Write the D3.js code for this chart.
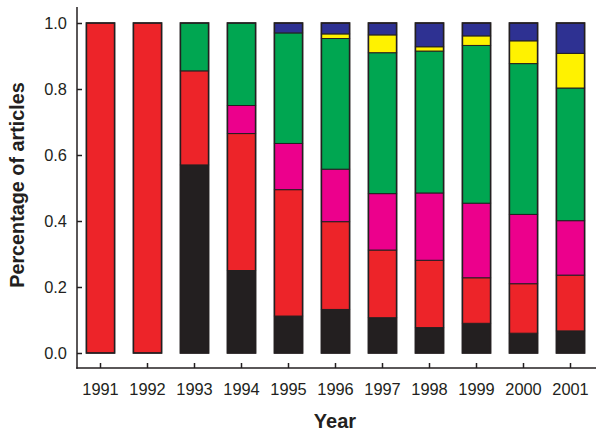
<!DOCTYPE html>
<html>
<head>
<meta charset="utf-8">
<script src="https://cdn.jsdelivr.net/npm/d3@7"></script>
<style>
  body { margin: 0; background: #fff; }
  svg { display: block; font-family: "Liberation Sans", Arial, Helvetica, sans-serif; }
  .axis text { fill: #231f20; font-size: 16.4px; }
  .axis line { stroke: #231f20; stroke-width: 1.5px; }
</style>
</head>
<body>
<script>
var width = 600,
  height = 434;

var years = ['1991', '1992', '1993', '1994', '1995', '1996', '1997', '1998', '1999', '2000', '2001'];

// share of articles per category, bottom of the stack first
var black   = [0,     0,     0.57,  0.25,  0.112, 0.132, 0.107, 0.077, 0.09,  0.06,  0.067];
var red     = [1,     1,     0.285, 0.415, 0.383, 0.266, 0.205, 0.204, 0.138, 0.15,  0.169];
var magenta = [0,     0,     0,     0.085, 0.14,  0.159, 0.171, 0.204, 0.226, 0.21,  0.165];
var green   = [0,     0,     0.145, 0.25,  0.335, 0.396, 0.427, 0.43,  0.478, 0.457, 0.402];
var yellow  = [0,     0,     0,     0,     0,     0.014, 0.054, 0.013, 0.029, 0.069, 0.105];
var navy    = [0,     0,     0,     0,     0.03,  0.033, 0.036, 0.072, 0.039, 0.054, 0.092];

var yTicks = [0, 0.2, 0.4, 0.6, 0.8, 1.0];

var keys = ['black', 'red', 'magenta', 'green', 'yellow', 'navy'];
var series = { black: black, red: red, magenta: magenta, green: green, yellow: yellow, navy: navy };

var colors = d3.scaleOrdinal()
  .domain(keys)
  .range(['#231f20', '#ed2429', '#ec008c', '#00a651', '#fff200', '#2e3192']);

var table = years.map(function(y, i) {
  var row = { year: y };
  keys.forEach(function(k) { row[k] = series[k][i]; });
  return row;
});

var stacked = d3.stack().keys(keys)(table);

var x = d3.scaleBand()
  .domain(years)
  .range([77, 594])
  .paddingInner(0.4)
  .paddingOuter(0.2);

var y = d3.scaleLinear()
  .domain([0, 1])
  .range([353, 23]);

var svg = d3.select('body').append('svg')
  .attr('width', width)
  .attr('height', height);

// bars
var layers = svg.append('g').selectAll('g')
  .data(stacked)
  .enter().append('g')
    .attr('fill', function(d) { return colors(d.key); });

layers.selectAll('rect')
  .data(function(d) { return d.filter(function(p) { return p[1] - p[0] > 0; }); })
  .enter().append('rect')
    .attr('x', function(d) { return x(d.data.year); })
    .attr('y', function(d) { return y(d[1]); })
    .attr('width', x.bandwidth())
    .attr('height', function(d) { return y(d[0]) - y(d[1]); })
    .attr('stroke', '#231f20')
    .attr('stroke-width', 1);

// outline round each whole bar
svg.append('g').selectAll('rect')
  .data(table)
  .enter().append('rect')
    .attr('x', function(d) { return x(d.year); })
    .attr('y', function(d) { return y(d3.sum(keys, function(k) { return d[k]; })); })
    .attr('width', x.bandwidth())
    .attr('height', function(d) { return y(0) - y(d3.sum(keys, function(k) { return d[k]; })); })
    .attr('fill', 'none')
    .attr('stroke', '#231f20')
    .attr('stroke-width', 1.6);

// axes
var xAxis = svg.append('g')
  .attr('class', 'axis')
  .attr('transform', 'translate(0,368)')
  .call(d3.axisBottom(x).tickSize(-5).tickPadding(15.5));
xAxis.select('.domain').remove();

var yAxis = svg.append('g')
  .attr('class', 'axis')
  .attr('transform', 'translate(77,0)')
  .call(d3.axisLeft(y).tickValues(yTicks).tickFormat(d3.format('.1f')).tickSize(-5).tickPadding(10));
yAxis.select('.domain').remove();

svg.append('line')
  .attr('x1', 77).attr('x2', 77)
  .attr('y1', 7).attr('y2', 368.75)
  .attr('stroke', '#231f20').attr('stroke-width', 1.5);

svg.append('line')
  .attr('x1', 76.25).attr('x2', 596)
  .attr('y1', 368).attr('y2', 368)
  .attr('stroke', '#231f20').attr('stroke-width', 1.5);

// titles
svg.append('text')
  .attr('x', 335)
  .attr('y', 428)
  .attr('text-anchor', 'middle')
  .attr('font-size', '20px')
  .attr('font-weight', 'bold')
  .attr('fill', '#231f20')
  .text('Year');

svg.append('text')
  .attr('transform', 'translate(24,185) rotate(-90)')
  .attr('text-anchor', 'middle')
  .attr('font-size', '19.8px')
  .attr('font-weight', 'bold')
  .attr('fill', '#231f20')
  .text('Percentage of articles');
</script>
</body>
</html>
